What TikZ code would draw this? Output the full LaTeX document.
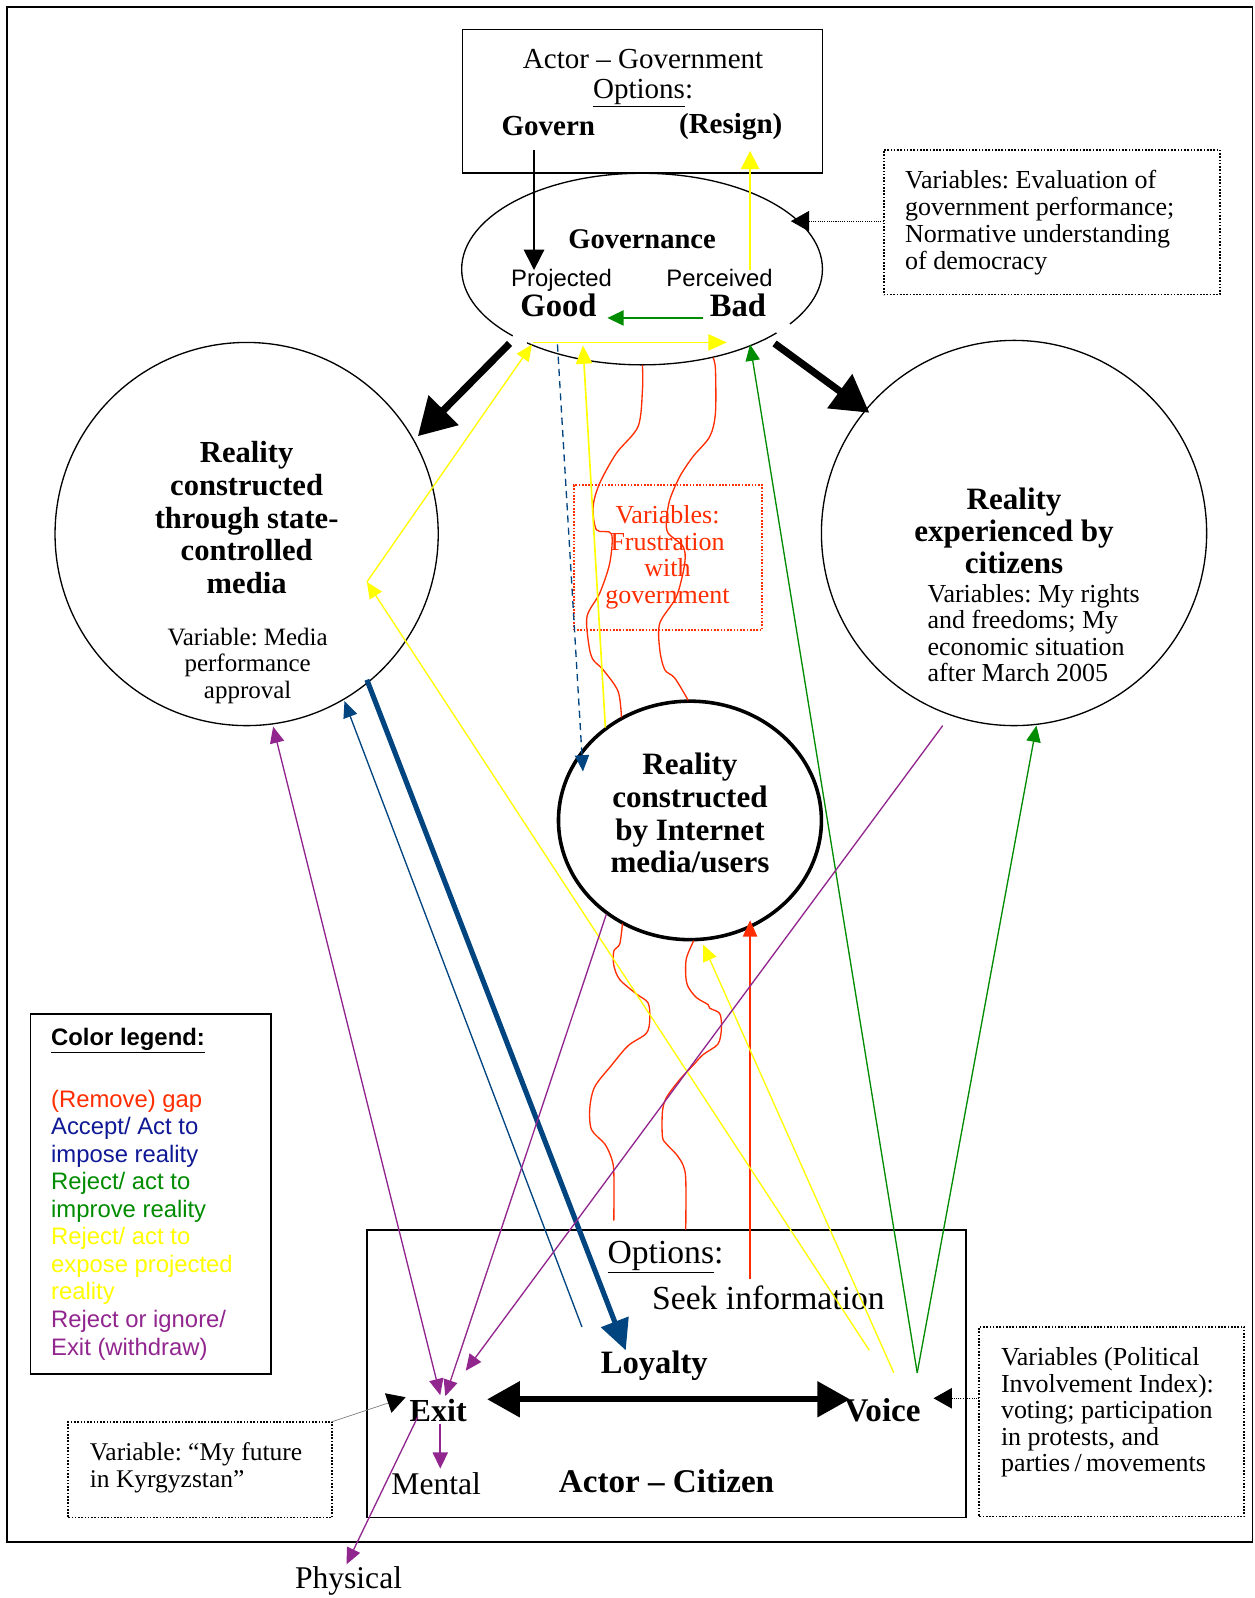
\documentclass[tikz,border=0pt]{standalone}
\usepackage{fontspec}
\setmainfont{Liberation Serif}
\newfontfamily\arialf{Liberation Sans}
\usetikzlibrary{arrows.meta,shapes.geometric}
\definecolor{cred}{RGB}{255,45,0}
\definecolor{cblue}{RGB}{0,68,128}
\definecolor{lblue}{RGB}{15,25,150}
\definecolor{cgreen}{RGB}{0,140,0}
\definecolor{cyel}{RGB}{255,255,0}
\definecolor{cpur}{RGB}{146,38,143}
\newcommand{\myfs}[2]{\fontsize{#1pt}{#2pt}\selectfont}
\frenchspacing
\tikzset{
  cl/.style={line width=1.3pt},
  hd/.style={-{Triangle[length=16pt,width=14pt]}},
  dhd/.style={{Triangle[length=16pt,width=14pt]}-{Triangle[length=16pt,width=14pt]}},
  frm/.style={draw, line width=1.5pt, inner sep=0pt},
  dotf/.style={draw, line width=1.8pt, dash pattern=on 1.6pt off 1.6pt, inner sep=0pt},
  tx/.style={inner sep=0pt, align=center},
  tl/.style={inner sep=0pt, align=left, anchor=west},
}
\begin{document}
\begin{tikzpicture}[x=1pt,y=-1pt]
\useasboundingbox (0,0) rectangle (1231,1568);
\fill[white] (0,0) rectangle (1231,1568);
% outer frame
\node[frm, minimum width=1222pt, minimum height=1506pt] (outer) at (618,760) {};

% ---------- boxes and shapes ----------
\node[frm, minimum width=353pt, minimum height=141pt] (govbox) at (630.5,99.5) {};
\node[ellipse, draw, line width=1.3pt, minimum width=354pt, minimum height=188pt, inner sep=0pt] (gov) at (630,264) {};
\draw[white, line width=3.5pt] (503,330) -- (517,336.5);
\draw[white, line width=3.5pt] (762,326.6) -- (775,318);
\node[circle, draw, line width=1.3pt, minimum size=376pt, inner sep=0pt] (media) at (242,524) {};
\node[circle, draw, line width=1.3pt, minimum size=378pt, inner sep=0pt] (citz) at (995,523) {};
\node[ellipse, draw, line width=3.5pt, minimum width=258pt, minimum height=234pt, inner sep=0pt] (inet) at (677,805) {};
\node[dotf, minimum width=330pt, minimum height=142pt] (varbox) at (1032,218) {};
\node[dotf, draw=cred, minimum width=185pt, minimum height=142pt] (frbox) at (655.5,547) {};
\node[frm, minimum width=236pt, minimum height=353pt] (legend) at (148,1171.5) {};
\node[frm, minimum width=588pt, minimum height=282pt] (citbox) at (654,1348) {};
\node[dotf, minimum width=260pt, minimum height=186pt] (pibox) at (1091,1395) {};
\node[dotf, minimum width=259pt, minimum height=94pt] (futbox) at (196.5,1442) {};

% ---------- texts ----------
\node[tx, font=\myfs{28.5}{33}] (tgov1) at (631,58) {Actor -- Government};
\node[tx, font=\myfs{28.5}{33}] (tgov2) at (631,91) {\underline{Options}:};
\node[tx, font=\myfs{28.5}{33}\bfseries] (tgovern) at (538,124) {Govern};
\node[tx, font=\myfs{28.5}{33}\bfseries] (tresign) at (717,124) {(Resign)};

\node[tx, font=\myfs{28}{32}\bfseries] (tgovn) at (630,235) {Governance};
\node[tx, anchor=base, font=\arialf\myfs{23.4}{27}] (tproj) at (551,281) {Projected};
\node[tx, anchor=base, font=\arialf\myfs{23.4}{27}] (tperc) at (706,281) {Perceived};
\node[tx, anchor=base, font=\myfs{32}{36}\bfseries] (tgood) at (548,311) {Good};
\node[tx, anchor=base, font=\myfs{32}{36}\bfseries] (tbad) at (724,311) {Bad};

\node[tx, font=\myfs{30}{32}\bfseries] (tmedia) at (242,508) {Reality\\constructed\\through state-\\controlled\\media};
\node[tx, font=\myfs{24.5}{26}] (tmvar) at (243,653) {Variable: Media\\performance\\approval};

\node[tx, font=\myfs{30.5}{31.5}\bfseries] (tcitz) at (995,521) {Reality\\experienced by\\citizens};
\node[tl, font=\myfs{25.5}{26}] (tcvar) at (910,621) {Variables: My rights\\and freedoms; My\\economic situation\\after March 2005};

\node[tx, font=\myfs{30.5}{32}\bfseries] (tinet) at (677,798) {Reality\\constructed\\by Internet\\media/users};

\node[tx, font=\myfs{25.5}{26}, text=cred] (tfr) at (655,547) {Variables:\\Frustration\\with\\government};

\node[tl, font=\myfs{25.5}{26.5}] (tvar) at (888,218) {Variables: Evaluation of\\government performance;\\Normative understanding\\of democracy};

\node[tl, font=\arialf\myfs{23.4}{27}\bfseries] (tleg) at (50,1021) {\underline{Color legend:}};
\node[tl, font=\arialf\myfs{23.4}{27}] (tlegb) at (50,1202) {\textcolor{cred}{(Remove) gap}\\\textcolor{lblue}{Accept/ Act to}\\\textcolor{lblue}{impose reality}\\\textcolor{cgreen}{Reject/ act to}\\\textcolor{cgreen}{improve reality}\\\textcolor{cyel}{Reject/ act to}\\\textcolor{cyel}{expose projected}\\\textcolor{cyel}{reality}\\\textcolor{cpur}{Reject or ignore/}\\\textcolor{cpur}{Exit (withdraw)}};

\node[tx, font=\myfs{33}{36}] (topt) at (653,1233) {\underline{Options}:};
\node[tx, font=\myfs{33}{36}] (tseek) at (754,1273) {Seek information};
\node[tx, font=\myfs{32}{36}\bfseries] (tloy) at (642,1340) {Loyalty};
\node[tx, font=\myfs{31.5}{36}\bfseries] (texit) at (430,1384) {Exit};
\node[tx, font=\myfs{32.5}{36}\bfseries] (tvoice) at (866,1384) {Voice};
\node[tx, font=\myfs{31}{36}] (tmental) at (428,1456) {Mental};
\node[tx, font=\myfs{32.5}{36}\bfseries] (tcit) at (654,1453) {Actor -- Citizen};
\node[tx, font=\myfs{31}{36}] (tphys) at (342,1551) {Physical};

\node[tl, font=\myfs{25.5}{26}] (tpi) at (982,1386) {Variables (Political\\Involvement Index):\\voting; participation\\in protests, and\\parties\,/\,movements};
\node[tl, font=\myfs{25}{26}] (tfut) at (88,1440) {Variable: ``My future\\in Kyrgyzstan''};

% ---------- coordinates ----------
\coordinate (gvA) at (524,147);  \coordinate (gvB) at (524,265);
\coordinate (rsA) at (736,265);  \coordinate (rsB) at (736,148);
\coordinate (bgA) at (690,312);  \coordinate (bgB) at (596,312);
\coordinate (k1s) at (500,337);  \coordinate (k1e) at (410,428);
\coordinate (k2s) at (760,337);  \coordinate (k2e) at (853,405);
\coordinate (d1s) at (867,217);  \coordinate (d1e) at (776,217);
\coordinate (d2s) at (961,1372); \coordinate (d2e) at (916,1372);
\coordinate (d3s) at (326,1395); \coordinate (d3e) at (398,1371);
\coordinate (yv1) at (853,1325); \coordinate (ymid) at (360,571);
\coordinate (ytl) at (522,338);  \coordinate (ytl2) at (523,336); \coordinate (ytr) at (713,336);
\coordinate (yv2) at (877,1347); \coordinate (yin) at (690,927);
\coordinate (yis) at (594,714);  \coordinate (yit) at (572,339);
\coordinate (bts) at (360,667);  \coordinate (bte) at (614,1325);
\coordinate (bns) at (571,1302); \coordinate (bne) at (338,688);
\coordinate (bds) at (547,338);  \coordinate (bde) at (572,757);
\coordinate (ras) at (736,1255); \coordinate (rae) at (736,903);
\coordinate (p1a) at (268,713);  \coordinate (p1b) at (432,1369);
\coordinate (p2a) at (595,897);  \coordinate (p2b) at (437,1370);
\coordinate (p3a) at (925,712);  \coordinate (p3b) at (457,1345);
\coordinate (p4a) at (432,1397); \coordinate (p4b) at (432,1441);
\coordinate (p5a) at (410,1390); \coordinate (p5b) at (340,1535);
\coordinate (gv) at (900,1347);  \coordinate (g1e) at (736,338); \coordinate (g2e) at (1017,712);
\coordinate (exA) at (478,1373); \coordinate (exB) at (834,1373);
\coordinate (r1s) at (630.4,358); \coordinate (r1e) at (609.8,704);
\coordinate (r2s) at (699.7,351); \coordinate (r2e) at (675.2,687);
\coordinate (r3s) at (610.8,906); \coordinate (r3e) at (602.3,1197.7);
\coordinate (r4s) at (680.7,923); \coordinate (r4e) at (672.9,1206.5);

% ---------- connectors ----------
% black
\draw[line width=1.6pt, -{Triangle[length=20pt,width=20pt]}] (gvA) -- (gvB);
\draw[line width=7pt, -{Triangle[length=36pt,width=40pt]}] (k1s) -- (k1e);
\draw[line width=7pt, -{Triangle[length=36pt,width=40pt]}] (k2s) -- (k2e);
\draw[line width=6pt, {Triangle[length=32pt,width=34pt]}-{Triangle[length=32pt,width=34pt]}] (exA) -- (exB);
\draw[line width=1pt, dash pattern=on 1pt off 1.2pt, -{Triangle[length=18pt,width=20pt]}] (d1s) -- (d1e);
\draw[line width=1pt, dash pattern=on 1pt off 1.2pt, -{Triangle[length=18pt,width=20pt]}] (d2s) -- (d2e);
\draw[line width=0.7pt, gray, -{Triangle[length=18pt,width=20pt,black]}] (d3s) -- (d3e);

% red
\draw[cred, cl] plot[smooth, tension=0.5] coordinates {(r1s) (630.4,382.5) (626.1,418.5) (604.9,444.6) (588.5,474) (582,497) (585.3,519.9) (600,523.8) (598.3,552.5) (588.5,581.9) (576,604.9) (578,634.3) (582,647.4) (591.8,657.2) (606.5,678.4) (r1e)};
\draw[cred, cl] plot[smooth, tension=0.5] coordinates {(r2s) (702,362) (702,405.4) (696.4,428.4) (680,448) (667,467.6) (657.2,490.4) (654,510) (655.5,523) (670.2,536.2) (671.9,552.5) (663.8,585.3) (647.4,611.4) (647.4,637.6) (652.3,657.2) (662.1,665.3) (r2e)};
\draw[cred, cl] plot[smooth, tension=0.5] coordinates {(r3s) (608.1,926.2) (602.3,933.2) (602.3,947.3) (608.1,961.2) (624.5,975.3) (635.9,984) (637.6,999.8) (634.3,1013.8) (616.3,1026.1) (600,1045.3) (583.6,1066.3) (578.7,1087.4) (580.4,1108.4) (593.4,1122.4) (600,1136.4) (602.3,1150.4) (r3e)};
\draw[cred, cl] plot[smooth, tension=0.5] coordinates {(r4s) (673.5,940.3) (672.9,957.7) (675.2,968.2) (683.3,978.8) (694.8,985.8) (696.4,989.3) (706.2,994.5) (707.9,1008.5) (704.6,1024.3) (689.9,1034.8) (680.1,1045.3) (667,1059.3) (653.9,1076.9) (650,1090.8) (650,1115.4) (653.9,1122.4) (663.8,1132.9) (670.3,1143.4) (672.9,1157.4) (r4e)};
\draw[cred, cl, hd] (ras) -- (rae);

% blue
\draw[cblue, line width=5pt, -{Triangle[length=30pt,width=28pt]}] (bts) -- (bte);
\draw[cblue, cl, hd] (bns) -- (bne);
\draw[cblue, cl, dash pattern=on 7pt off 5pt, hd] (bds) -- (bde);

% green
\draw[cgreen, line width=1.6pt, -{Triangle[length=16pt,width=15pt]}] (bgA) -- (bgB);
\draw[cgreen, cl, hd] (gv) -- (g1e);
\draw[cgreen, cl, hd] (gv) -- (g2e);

% yellow
\draw[cyel, line width=1.6pt, -{Triangle[length=18pt,width=18pt]}] (rsA) -- (rsB);
\draw[cyel, cl, hd] (yv1) -- (ymid);
\draw[cyel, cl, hd] (ymid) -- (ytl);
\draw[cyel, line width=1.6pt, -{Triangle[length=18pt,width=16pt]}] (ytl2) -- (ytr);
\draw[cyel, cl, hd] (yv2) -- (yin);
\draw[cyel, line width=1.6pt, -{Triangle[length=18pt,width=16pt]}] (yis) -- (yit);

% purple
\draw[cpur, cl, dhd] (p1a) -- (p1b);
\draw[cpur, cl, hd] (p2a) -- (p2b);
\draw[cpur, cl, hd] (p3a) -- (p3b);
\draw[cpur, line width=1.6pt, -{Triangle[length=16pt,width=15pt]}] (p4a) -- (p4b);
\draw[cpur, cl, hd] (p5a) -- (p5b);
\end{tikzpicture}
\end{document}
